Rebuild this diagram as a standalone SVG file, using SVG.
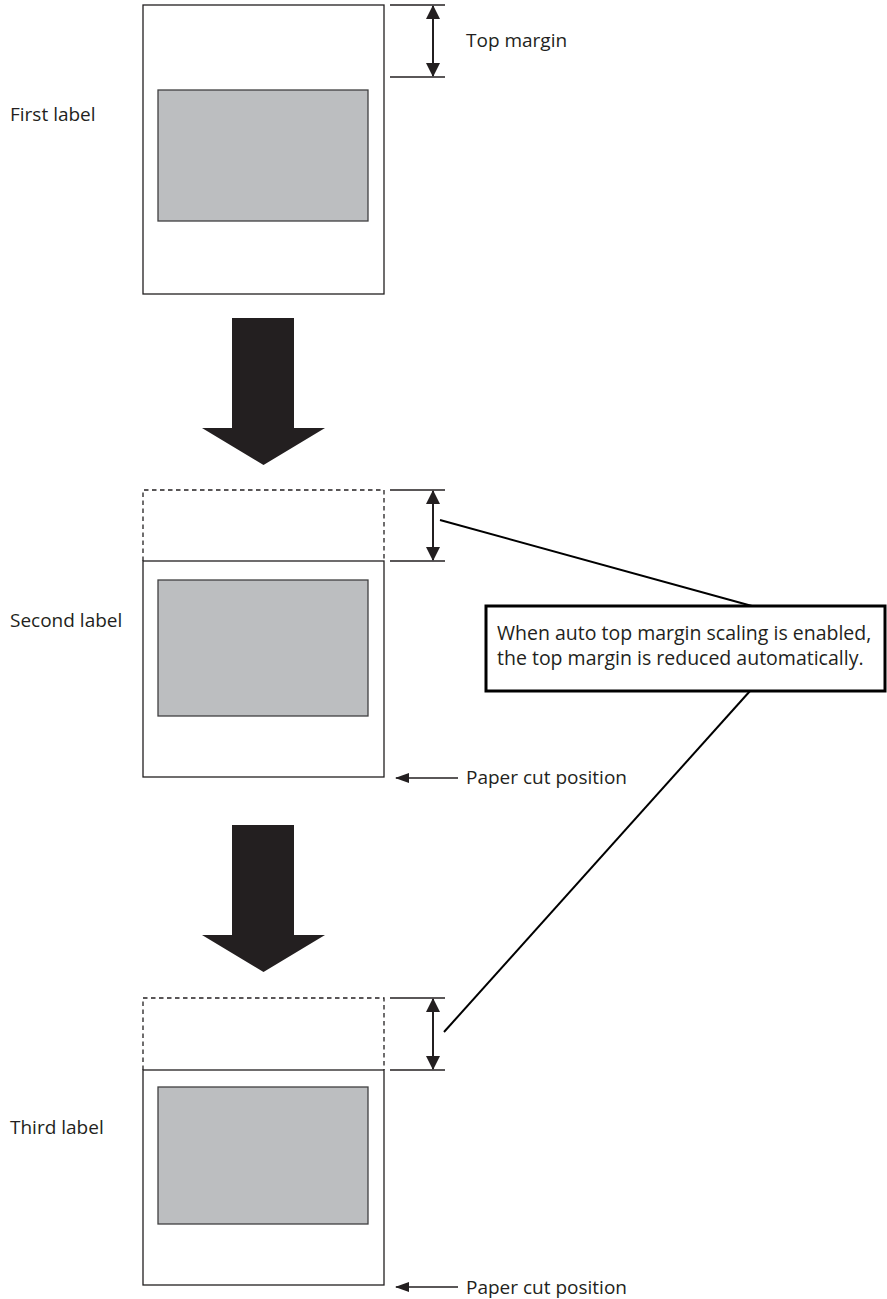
<svg xmlns="http://www.w3.org/2000/svg" width="887" height="1299" viewBox="0 0 887 1299">
<style>
.box{fill:#fff;stroke:#231f20;stroke-width:1.3}
.dash{fill:none;stroke:#231f20;stroke-width:1.3;stroke-dasharray:4.5 3.5}
.gray{fill:#bcbec0;stroke:#404041;stroke-width:1.3}
.dim{stroke:#231f20;stroke-width:1.3}
.dimv{stroke:#231f20;stroke-width:2}
.conn{stroke:#000;stroke-width:2;fill:none}
.big{fill:#231f20}
.t{font-family:"Open Sans","Liberation Sans",sans-serif;font-size:19px;fill:#231f20}
.c{font-size:19.5px}
</style>
<defs>
<marker id="ah" viewBox="0 0 14 14" refX="13" refY="7" markerWidth="14" markerHeight="14" markerUnits="userSpaceOnUse" orient="auto-start-reverse">
<path d="M0,0 L14,7 L0,14 Z" fill="#231f20"/>
</marker>
<marker id="ah2" viewBox="0 0 14 10" refX="13" refY="5" markerWidth="14" markerHeight="10" markerUnits="userSpaceOnUse" orient="auto">
<path d="M0,0 L14,5 L0,10 Z" fill="#231f20"/>
</marker>
</defs>

<g id="first-label">
<rect class="box" x="143" y="5" width="241" height="289"/>
<rect class="gray" x="158" y="90" width="210" height="131"/>
<text class="t" x="10" y="121">First label</text>
</g>

<g id="top-margin-dim">
<line class="dim" x1="390" y1="5" x2="445" y2="5"/>
<line class="dim" x1="390" y1="77" x2="445" y2="77"/>
<line class="dimv" x1="433" y1="6" x2="433" y2="76" marker-start="url(#ah)" marker-end="url(#ah)"/>
<text class="t" x="466" y="47">Top margin</text>
</g>

<g id="arrow-1">
<polygon class="big" points="232,318 294,318 294,428 325,428 263.5,465 202,428 232,428"/>
</g>

<g id="second-label">
<path class="dash" d="M143,561 V490 H384 V561"/>
<rect class="box" x="143" y="561" width="241" height="216"/>
<rect class="gray" x="158" y="580" width="210" height="136"/>
<text class="t" x="10" y="627">Second label</text>
</g>

<g id="second-dim">
<line class="dim" x1="390" y1="490" x2="445" y2="490"/>
<line class="dim" x1="390" y1="561" x2="445" y2="561"/>
<line class="dimv" x1="433" y1="491" x2="433" y2="560" marker-start="url(#ah)" marker-end="url(#ah)"/>
</g>

<g id="cut-1">
<line class="dim" x1="458" y1="778" x2="396" y2="778" marker-end="url(#ah2)"/>
<text class="t" x="466" y="784">Paper cut position</text>
</g>

<g id="arrow-2">
<polygon class="big" points="232,825 294,825 294,935 325,935 263.5,972 202,935 232,935"/>
</g>

<g id="third-label">
<path class="dash" d="M143,1070 V998 H384 V1070"/>
<rect class="box" x="143" y="1070" width="241" height="215"/>
<rect class="gray" x="158" y="1087" width="210" height="137"/>
<text class="t" x="10" y="1134">Third label</text>
</g>

<g id="third-dim">
<line class="dim" x1="390" y1="998" x2="445" y2="998"/>
<line class="dim" x1="390" y1="1070" x2="445" y2="1070"/>
<line class="dimv" x1="433" y1="999" x2="433" y2="1069" marker-start="url(#ah)" marker-end="url(#ah)"/>
</g>

<g id="cut-2">
<line class="dim" x1="458" y1="1287" x2="396" y2="1287" marker-end="url(#ah2)"/>
<text class="t" x="466" y="1294">Paper cut position</text>
</g>

<g id="connectors">
<line class="conn" x1="440" y1="520" x2="752" y2="606"/>
<line class="conn" x1="750" y1="691" x2="444" y2="1032"/>
</g>

<g id="callout">
<rect x="486" y="606" width="399" height="85" fill="#fff" stroke="#000" stroke-width="3"/>
<text class="t c" x="497" y="640">When auto top margin scaling is enabled,</text>
<text class="t c" x="497" y="665">the top margin is reduced automatically.</text>
</g>
</svg>
